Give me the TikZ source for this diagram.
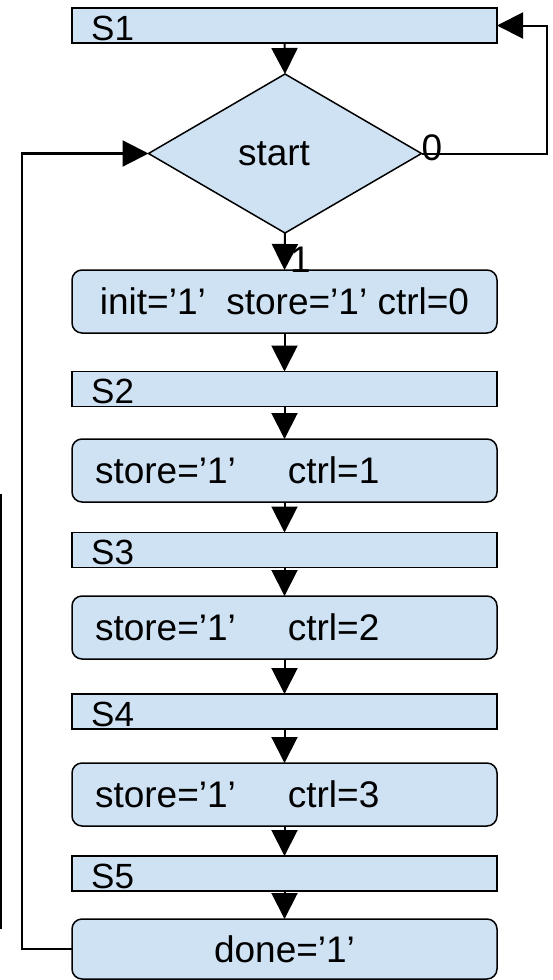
\documentclass[tikz,border=0pt]{standalone}
\usepackage{fontspec}
\setmainfont{Liberation Sans}
\usetikzlibrary{arrows.meta,shapes.geometric}
\definecolor{boxfill}{HTML}{CFE2F3}
\tikzset{
  shapebase/.style={draw=black, line width=1.5pt, fill=boxfill, inner sep=0pt, outer sep=0pt},
  statebar/.style={shapebase, rectangle, minimum width=425pt, minimum height=35pt},
  statename/.style={anchor=base west, inner sep=0pt, xshift=19pt, yshift=3pt,
    font=\fontsize{35}{38}\selectfont},
  actionbox/.style={shapebase, rectangle, rounded corners=10pt, minimum width=425pt,
    minimum height=63pt, font=\fontsize{37}{42}\selectfont},
  leftbox/.style={actionbox, inner xsep=23pt, text width=379pt, align=left},
  decision/.style={shapebase, diamond, minimum width=273pt, minimum height=159pt,
    font=\fontsize{37}{42}\selectfont},
  tag/.style={inner sep=0pt, font=\fontsize{37}{42}\selectfont},
  flow/.style={line width=2pt, -{Triangle[length=26pt,width=26pt]}},
  loopline/.style={line width=2.2pt, -{Triangle[length=26pt,width=26pt]}}
}
\begin{document}
\begin{tikzpicture}[x=1pt, y=-1pt]
\useasboundingbox (0,0) rectangle (553,980);

% state bars
\node[statebar, label={[statename]south west:S1}] (s1) at (284.5,25.5) {};
\node[statebar, label={[statename]south west:S2}] (s2) at (284.5,389) {};
\node[statebar, label={[statename]south west:S3}] (s3) at (284.5,550) {};
\node[statebar, label={[statename]south west:S4}] (s4) at (284.5,711.5) {};
\node[statebar, label={[statename]south west:S5}] (s5) at (284.5,873.5) {};

% decision (text sits a little left of the centre)
\node[decision] (dec) at (285,153.5) {start\kern22pt};

% action boxes
\node[actionbox] (a0) at (284.5,301.5) {init='1'\ \ store='1' ctrl=0};
\node[leftbox] (a1) at (284.5,470.5) {store='1'\hspace{52pt}ctrl=1};
\node[leftbox] (a2) at (284.5,627.5) {store='1'\hspace{52pt}ctrl=2};
\node[leftbox] (a3) at (284.5,794.5) {store='1'\hspace{52pt}ctrl=3};
\node[actionbox, minimum height=60pt] (a4) at (284.5,949) {done='1'};

% loop turning points
\coordinate (rloop) at (547,0);
\coordinate (lloop) at (22,0);

% main flow
\draw[flow] (s1.south) -- (dec.north);
\draw[flow] (dec.south) -- (a0.north);
\draw[flow] (a0.south) -- (s2.north);
\draw[flow] (s2.south) -- (a1.north);
\draw[flow] (a1.south) -- (s3.north);
\draw[flow] (s3.south) -- (a2.north);
\draw[flow] (a2.south) -- (s4.north);
\draw[flow] (s4.south) -- (a3.north);
\draw[flow] (a3.south) -- (s5.north);
\draw[flow] (s5.south) -- (a4.north);

% loops
\draw[flow] (dec.east) -- (dec.east -| rloop) |- (s1.east);
\draw[loopline] (a4.west) -- (a4.west -| lloop) |- (dec.west);

% branch labels
\node[tag, anchor=west, yshift=6pt] (lbl0) at (dec.east) {0};
\node[tag, anchor=base west] (lbl1) at (290,272) {1};

% edge stroke on the left
\draw[line width=2pt] (1,494) -- (1,929);
\end{tikzpicture}
\end{document}
